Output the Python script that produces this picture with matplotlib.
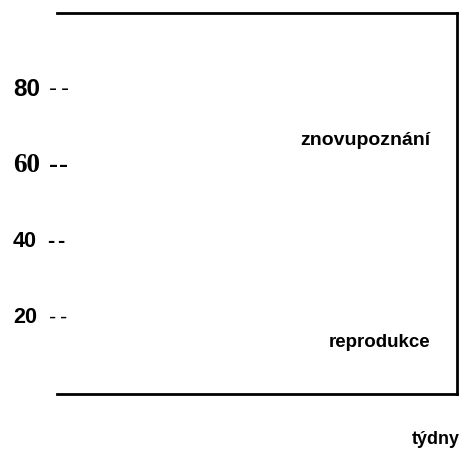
import matplotlib
matplotlib.use("Agg")
import matplotlib.pyplot as plt
from matplotlib.transforms import blended_transform_factory

# Scale marks on the left edge
levels = [80, 60, 40, 20]
level_labels = ["80", "60", "40", "20"]
level_fonts = ["Liberation Sans", "Liberation Serif", "Liberation Sans", "Liberation Sans"]
level_sizes = [17.5, 19.5, 15.5, 15.5]
dash_bold = [False, True, True, False]
dash_x = [(49, 61), (49, 59), (47, 57), (49, 60)]

# Curve captions
curve_names = ["znovupoznání", "reprodukce"]
curve_levels = [66.5, 13.4]
curve_sizes = [14, 13.5]
x_label = "týdny"

fig = plt.figure(figsize=(4.62, 4.53), dpi=100)
ax = fig.add_axes([57 / 462, 1 - 394 / 453, 400 / 462, 381 / 453])
ax.set_xlim(0, 1)
ax.set_ylim(0, 100)
ax.set_xticks([])
ax.set_yticks([])
ax.spines["left"].set_visible(False)
for s in ("top", "right", "bottom"):
    ax.spines[s].set_linewidth(2)

tr = blended_transform_factory(fig.transFigure, ax.transData)
for y, lab, fam, size, bold, dxs in zip(levels, level_labels, level_fonts,
                                        level_sizes, dash_bold, dash_x):
    ax.text(13 / 462, y, lab, transform=tr, fontsize=size, fontweight="bold",
            family=fam, va="center", ha="left")
    for dx in dxs:
        ax.text(dx / 462, y, "-", transform=tr, fontsize=size,
                fontweight="bold" if bold else "normal", family=fam,
                va="center", ha="left")

for name, y, size in zip(curve_names, curve_levels, curve_sizes):
    ax.text(430 / 462, y, name, transform=tr, fontsize=size, fontweight="bold",
            family="Liberation Sans", va="center", ha="right")

fig.text(460 / 462, 1 - 439 / 453, x_label, fontsize=13, fontweight="bold",
         family="Liberation Sans", va="center", ha="right")

fig.savefig("out.png", dpi=100)
